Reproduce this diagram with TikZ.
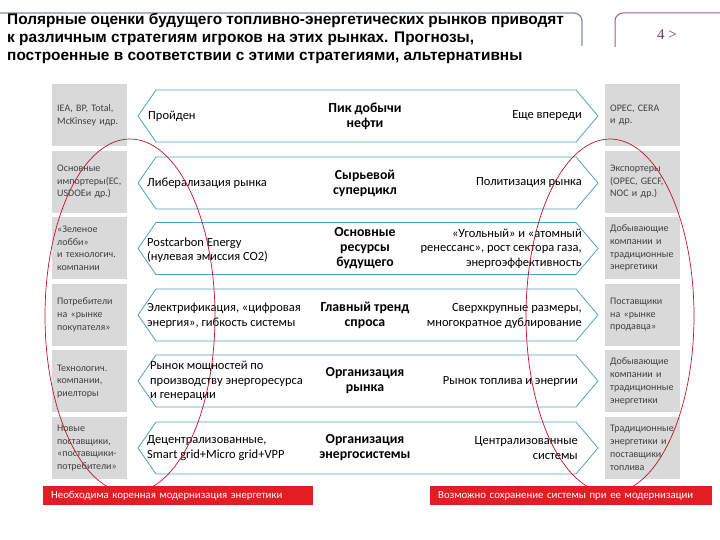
\documentclass[tikz,border=0pt]{standalone}
\usepackage{fontspec}
\setmainfont{Carlito}
\newfontfamily\titlefont{Liberation Sans}
\newfontfamily\numfont{Liberation Serif}
\definecolor{boxgray}{RGB}{217,217,217}
\definecolor{boxtext}{RGB}{64,64,64}
\definecolor{arrowblue}{RGB}{80,160,200}
\definecolor{curvered}{RGB}{190,20,40}
\definecolor{barred}{RGB}{228,28,36}
\definecolor{framegray}{RGB}{128,145,165}
\definecolor{framemauve}{RGB}{160,90,140}
\definecolor{nummauve}{RGB}{120,50,110}
\tikzset{
  graybox/.style={fill=boxgray, draw=none, minimum width=75pt, minimum height=62pt,
    inner xsep=5pt, inner ysep=0pt, text width=65pt, align=left, anchor=west,
    text=boxtext, font=\fontsize{10}{12.8}\selectfont},
  arrowline/.style={draw=arrowblue, line width=0.8pt, fill=white},
  lefttext/.style={anchor=west, align=left, inner sep=0pt, font=\fontsize{12.5}{14.5}\selectfont},
  righttext/.style={anchor=east, align=right, inner sep=0pt, font=\fontsize{12.5}{14.5}\selectfont},
  centertext/.style={align=center, inner sep=0pt, font=\bfseries\fontsize{13.8}{15}\selectfont},
  redcurve/.style={draw=curvered, line width=0.7pt},
  redbar/.style={fill=barred, draw=none, anchor=west, text=white, inner xsep=8pt,
    minimum height=19pt, align=left, font=\fontsize{10.8}{12}\selectfont}
}
\newcommand{\hexarrow}[1]{%
  \draw[arrowline] (138,#1) -- (156,{#1-26}) -- (576,{#1-26}) -- (598,#1)
    -- (576,{#1+26}) -- (156,{#1+26}) -- cycle;}
\begin{document}
\begin{tikzpicture}[x=1pt,y=-1pt]
\useasboundingbox (0,0) rectangle (720,540);

% header
\draw[framegray, line width=1.3pt, rounded corners=8pt] (-2,13) -- (582,13) -- (582,46);
\draw[framemauve, line width=1pt, rounded corners=8pt] (615,47) -- (615,13) -- (722,13);
\node[anchor=north west, align=left, inner sep=0pt,
  font=\titlefont\bfseries\fontsize{15.4}{17.8}\selectfont] (title) at (7,13)
  {Полярные оценки будущего топливно-энергетических рынков приводят\\
   к различным стратегиям игроков на этих рынках. Прогнозы,\\
   построенные в соответствии с этими стратегиями, альтернативны};
\node[text=nummauve, font=\numfont\fontsize{15}{16}\selectfont] (num) at (667,35) {4 >};

% left gray boxes
\node[graybox] (l1) at (52,115) {IEA, BP, Total,\\McKinsey идр.};
\node[graybox] (l2) at (52,181.6) {Основные\\импортеры(ЕС,\\USDOEи др.)};
\node[graybox] (l3) at (52,248.2) {«Зеленое\\лобби»\\и технологич.\\компании};
\node[graybox] (l4) at (52,314.8) {Потребители\\на «рынке\\покупателя»};
\node[graybox] (l5) at (52,381.4) {Технологич.\\компании,\\риелторы};
\node[graybox] (l6) at (52,448) {Новые\\поставщики,\\«поставщики-\\потребители»};

% right gray boxes
\node[graybox] (r1) at (605,115) {OPEC, CERA\\и др.};
\node[graybox] (r2) at (605,181.6) {Экспортеры\\(OPEC, GECF,\\NOC и др.)};
\node[graybox] (r3) at (605,248.2) {Добывающие\\компании и\\традиционные\\энергетики};
\node[graybox] (r4) at (605,314.8) {Поставщики\\на «рынке\\продавца»};
\node[graybox] (r5) at (605,381.4) {Добывающие\\компании и\\традиционные\\энергетики};
\node[graybox] (r6) at (605,448) {Традиционные\\энергетики и\\поставщики\\топлива};

% arrows
\hexarrow{116}
\hexarrow{183}
\hexarrow{248.5}
\hexarrow{315}
\hexarrow{381}
\hexarrow{448}

% arrow texts
\node[lefttext] (a1l) at (148,116) {Пройден};
\node[centertext] (a1c) at (365,116) {Пик добычи\\нефти};
\node[righttext] (a1r) at (582,116) {Еще впереди};

\node[lefttext] (a2l) at (147,183) {Либерализация рынка};
\node[centertext] (a2c) at (365,183) {Сырьевой\\суперцикл};
\node[righttext] (a2r) at (582,183) {Политизация рынка};

\node[lefttext] (a3l) at (147,250) {Postcarbon Energy\\(нулевая эмиссия CO2)};
\node[centertext] (a3c) at (365,248.5) {Основные\\ресурсы\\будущего};
\node[righttext] (a3r) at (582,248.5) {«Угольный» и «атомный\\ренессанс», рост сектора газа,\\энергоэффективность};

\node[lefttext] (a4l) at (147,316) {Электрификация, «цифровая\\энергия», гибкость системы};
\node[centertext] (a4c) at (365,315) {Главный тренд\\спроса};
\node[righttext] (a4r) at (582,316) {Сверхкрупные размеры,\\многократное дублирование};

\node[lefttext] (a5l) at (150,381) {Рынок мощностей по\\производству энергоресурса\\и генерации};
\node[centertext] (a5c) at (365,381) {Организация\\рынка};
\node[righttext] (a5r) at (578,381) {Рынок топлива и энергии};

\node[lefttext] (a6l) at (147,448) {Децентрализованные,\\Smart grid+Micro grid+VPP};
\node[centertext] (a6c) at (365,448) {Организация\\энергосистемы};
\node[righttext] (a6r) at (578,448) {Централизованные\\системы};

% red curves
\draw[redcurve] (130,316) ellipse [x radius=85pt, y radius=177pt];
\draw[redcurve] (610,316) ellipse [x radius=84pt, y radius=177pt];

% red bars
\node[redbar, minimum width=270pt, text width=254pt] (b1) at (43,495.5) {Необходима коренная модернизация энергетики};
\node[redbar, minimum width=282pt, text width=266pt] (b2) at (430,495.5) {Возможно сохранение системы при ее модернизации};
\end{tikzpicture}
\end{document}
